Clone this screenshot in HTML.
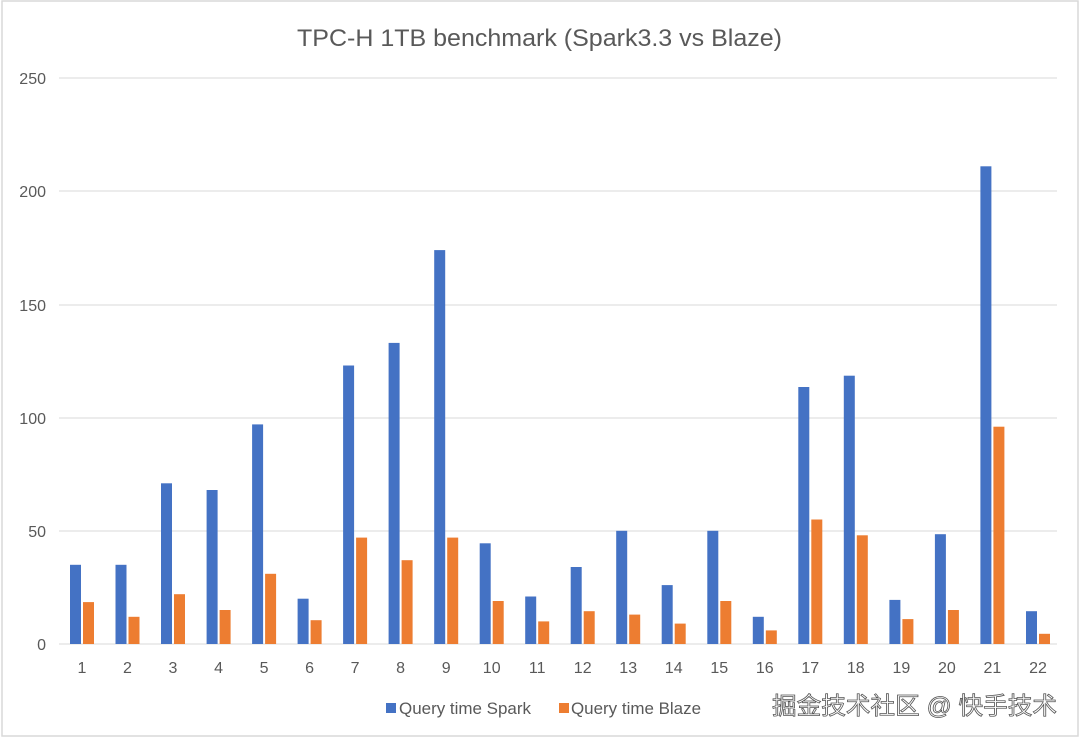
<!DOCTYPE html>
<html><head><meta charset="utf-8"><style>
html,body{margin:0;padding:0;background:#fff}
svg{display:block}
text{font-family:"Liberation Sans","Noto Sans CJK SC",sans-serif;fill:#595959}
</style></head><body>
<svg width="1080" height="739" viewBox="0 0 1080 739">
<rect x="2" y="1" width="1076" height="735" fill="#fff" stroke="#d9d9d9" stroke-width="1.5"/>
<text x="297" y="46" font-size="24" textLength="485" lengthAdjust="spacingAndGlyphs">TPC-H 1TB benchmark (Spark3.3 vs Blaze)</text>
<g stroke="#d9d9d9" stroke-width="1">
<line x1="59" x2="1057" y1="78" y2="78"/><line x1="59" x2="1057" y1="191" y2="191"/>
<line x1="59" x2="1057" y1="305" y2="305"/><line x1="59" x2="1057" y1="418" y2="418"/>
<line x1="59" x2="1057" y1="531" y2="531"/><line x1="59" x2="1057" y1="644" y2="644"/>
</g>
<g font-size="16" text-anchor="end">
<text x="46" y="84">250</text><text x="46" y="197">200</text><text x="46" y="311">150</text>
<text x="46" y="424">100</text><text x="46" y="537">50</text><text x="46" y="650">0</text>
</g>
<g transform="translate(0,644) scale(1,-1)">
<g fill="#4472c4">
<rect x="70" width="11" height="79.2"/><rect x="115.5" width="11" height="79.2"/><rect x="161" width="11" height="160.7"/>
<rect x="206.6" width="11" height="154"/><rect x="252.1" width="11" height="219.6"/><rect x="297.6" width="11" height="45.3"/>
<rect x="343.1" width="11" height="278.5"/><rect x="388.6" width="11" height="301.1"/><rect x="434.2" width="11" height="393.9"/>
<rect x="479.7" width="11" height="100.7"/><rect x="525.2" width="11" height="47.5"/><rect x="570.7" width="11" height="77"/>
<rect x="616.2" width="11" height="113.2"/><rect x="661.7" width="11" height="58.9"/><rect x="707.3" width="11" height="113.2"/>
<rect x="752.8" width="11" height="27.2"/><rect x="798.3" width="11" height="257"/><rect x="843.8" width="11" height="268.3"/>
<rect x="889.4" width="11" height="44.1"/><rect x="934.9" width="11" height="109.8"/><rect x="980.4" width="11" height="477.7"/>
<rect x="1026" width="11" height="32.8"/>
</g>
<g fill="#ed7d31">
<rect x="83" width="11" height="41.9"/><rect x="128.5" width="11" height="27.2"/><rect x="174" width="11" height="49.8"/>
<rect x="219.6" width="11" height="34"/><rect x="265.1" width="11" height="70.2"/><rect x="310.6" width="11" height="23.8"/>
<rect x="356.1" width="11" height="106.4"/><rect x="401.6" width="11" height="83.8"/><rect x="447.2" width="11" height="106.4"/>
<rect x="492.7" width="11" height="43"/><rect x="538.2" width="11" height="22.6"/><rect x="583.7" width="11" height="32.8"/>
<rect x="629.2" width="11" height="29.4"/><rect x="674.7" width="11" height="20.4"/><rect x="720.3" width="11" height="43"/>
<rect x="765.8" width="11" height="13.6"/><rect x="811.3" width="11" height="124.5"/><rect x="856.8" width="11" height="108.7"/>
<rect x="902.4" width="11" height="24.9"/><rect x="947.9" width="11" height="34"/><rect x="993.4" width="11" height="217.3"/>
<rect x="1039" width="11" height="10.2"/>
</g>
</g>
<g font-size="16" text-anchor="middle">
<text x="82" y="673">1</text><text x="127.5" y="673">2</text><text x="173" y="673">3</text><text x="218.6" y="673">4</text>
<text x="264.1" y="673">5</text><text x="309.6" y="673">6</text><text x="355.1" y="673">7</text><text x="400.6" y="673">8</text>
<text x="446.2" y="673">9</text><text x="491.7" y="673">10</text><text x="537.2" y="673">11</text><text x="582.7" y="673">12</text>
<text x="628.2" y="673">13</text><text x="673.7" y="673">14</text><text x="719.3" y="673">15</text><text x="764.8" y="673">16</text>
<text x="810.3" y="673">17</text><text x="855.8" y="673">18</text><text x="901.4" y="673">19</text><text x="946.9" y="673">20</text>
<text x="992.4" y="673">21</text><text x="1038" y="673">22</text>
</g>
<rect x="386" y="703" width="10" height="10" fill="#4472c4"/>
<text x="399" y="714" font-size="17" textLength="132" lengthAdjust="spacingAndGlyphs">Query time Spark</text>
<rect x="559" y="703" width="10" height="10" fill="#ed7d31"/>
<text x="571" y="714" font-size="17" textLength="130" lengthAdjust="spacingAndGlyphs">Query time Blaze</text>
<text x="772" y="714" font-size="24" textLength="285" lengthAdjust="spacingAndGlyphs" style="fill:#fff;stroke:#555;stroke-width:0.8">掘金技术社区 @ 快手技术</text>
</svg>
</body></html>
